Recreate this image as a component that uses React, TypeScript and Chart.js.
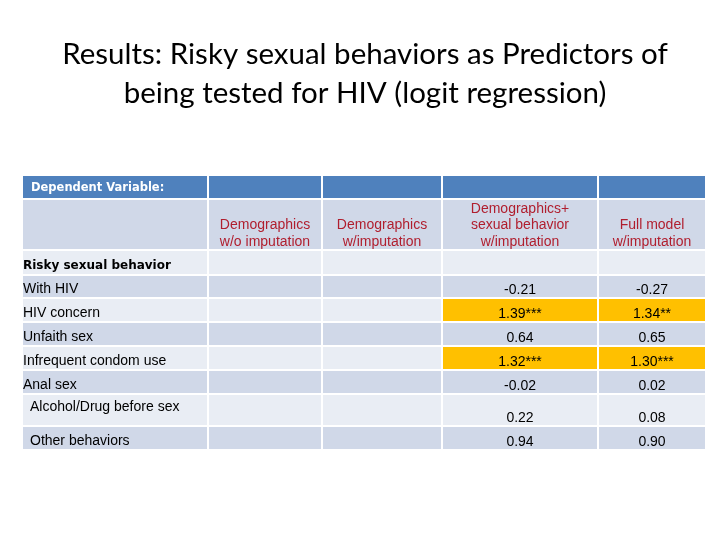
import React, { useEffect, useRef } from "react";
import { Chart, registerables } from "chart.js";

Chart.register(...registerables);

// ---------- content ----------
const TITLE_LINES = [
  "Results: Risky sexual behaviors as Predictors of",
  "being tested for HIV (logit regression)",
];
const HEADER_LABEL = "Dependent Variable:";
const COLUMN_HEADERS = [
  [],
  ["Demographics", "w/o imputation"],
  ["Demographics", "w/imputation"],
  ["Demographics+", "sexual behavior", "w/imputation"],
  ["Full model", "w/imputation"],
];
const SECTION_LABEL = "Risky sexual behavior";
const ROW_LABELS = [
  "With HIV",
  "HIV concern",
  "Unfaith sex",
  "Infrequent condom use",
  "Anal sex",
  "Alcohol/Drug before sex",
  "Other behaviors",
];
const DEMO_NO_IMP_VALUES = ["", "", "", "", "", "", ""];
const DEMO_IMP_VALUES = ["", "", "", "", "", "", ""];
const DEMO_SEX_IMP_VALUES = ["-0.21", "1.39***", "0.64", "1.32***", "-0.02", "0.22", "0.94"];
const FULL_MODEL_VALUES = ["-0.27", "1.34**", "0.65", "1.30***", "0.02", "0.08", "0.90"];

// ---------- layout / style ----------
const COL_WIDTHS = [186, 114, 120, 156, 108];
const ROW_HEIGHTS = [24, 51, 25, 23, 24, 24, 24, 24, 32, 24];
const GAP = 2;
const LABEL_INDENT = [0, 0, 0, 0, 0, 7, 7];
const LABEL_TOP_ALIGNED = [false, false, false, false, false, true, false];

const BLUE = "#4F81BD";
const DARK = "#D0D8E8";
const LIGHT = "#E9EDF4";
const ORANGE = "#FFC000";
const RED_TEXT = "#B01E2E";

const TITLE_SIZE = 29.5;
const TITLE_LINE_PX = 39;
const TITLE_PAD_TOP = 34.5;
const TABLE_TOP = 176;

const sum = (a: number[]) => a.reduce((s, v) => s + v, 0);

export default function App() {
  const ref = useRef<HTMLCanvasElement | null>(null);

  useEffect(() => {
    const canvas = ref.current;
    if (!canvas) return;
    const totalW = sum(COL_WIDTHS);
    const totalH = sum(ROW_HEIGHTS);
    const colStarts = COL_WIDTHS.map((_, i) => sum(COL_WIDTHS.slice(0, i)));
    const rowStarts = ROW_HEIGHTS.map((_, i) => sum(ROW_HEIGHTS.slice(0, i)));
    const dataCols = [null, DEMO_NO_IMP_VALUES, DEMO_IMP_VALUES, DEMO_SEX_IMP_VALUES, FULL_MODEL_VALUES];

    const tablePlugin = {
      id: "tablePlugin",
      afterDraw(chart: any) {
        const { ctx } = chart;
        const xs = chart.scales.x;
        const ys = chart.scales.y;
        const cell = (r: number, c: number) => {
          const x0 = xs.getPixelForValue(colStarts[c]);
          const x1 = xs.getPixelForValue(colStarts[c] + COL_WIDTHS[c]) - GAP;
          const y0 = ys.getPixelForValue(rowStarts[r]);
          const y1 = ys.getPixelForValue(rowStarts[r] + ROW_HEIGHTS[r]) - GAP;
          return { x0, x1, y0, y1, cx: (x0 + x1) / 2 };
        };
        const text = (s: string, x: number, y: number, font: string, color: string, align: CanvasTextAlign) => {
          ctx.font = font;
          ctx.fillStyle = color;
          ctx.textAlign = align;
          ctx.textBaseline = "middle";
          ctx.fillText(s, x, y);
        };
        ctx.save();
        const nRows = ROW_HEIGHTS.length;
        for (let r = 0; r < nRows; r++) {
          for (let c = 0; c < COL_WIDTHS.length; c++) {
            let color = BLUE;
            if (r === 1) color = DARK;
            else if (r === 2) color = LIGHT;
            else if (r >= 3) {
              const di = r - 3;
              color = di % 2 === 0 ? DARK : LIGHT;
              const col = dataCols[c];
              if (col && col[di] && col[di].includes("*")) color = ORANGE;
            }
            const b = cell(r, c);
            ctx.fillStyle = color;
            ctx.fillRect(b.x0, b.y0, b.x1 - b.x0, b.y1 - b.y0);
          }
        }
        const headFont = "bold 11.5px 'DejaVu Sans'";
        const boldFont = "bold 12px 'DejaVu Sans'";
        const regFont = "14px 'Liberation Sans', Arial";
        // header row
        const h = cell(0, 0);
        text(HEADER_LABEL, h.x0 + 8, (h.y0 + h.y1) / 2 + 1, headFont, "#FFFFFF", "left");
        // column headers
        for (let c = 1; c < COLUMN_HEADERS.length; c++) {
          const b = cell(1, c);
          const lines = COLUMN_HEADERS[c];
          lines.forEach((ln, i) => {
            const y = b.y1 - 7 - (lines.length - 1 - i) * 16.5;
            text(ln, b.cx, y, regFont, RED_TEXT, "center");
          });
        }
        // section label
        const s = cell(2, 0);
        text(SECTION_LABEL, s.x0, s.y1 - 8, boldFont, "#000000", "left");
        // data rows
        ROW_LABELS.forEach((lab, i) => {
          const b = cell(3 + i, 0);
          const y = LABEL_TOP_ALIGNED[i] ? b.y0 + 12 : b.y1 - 7.5;
          text(lab, b.x0 + LABEL_INDENT[i], y, regFont, "#000000", "left");
          for (let c = 1; c < dataCols.length; c++) {
            const col = dataCols[c];
            if (!col || !col[i]) continue;
            const bc = cell(3 + i, c);
            text(col[i], bc.cx, bc.y1 - 7, regFont, "#000000", "center");
          }
        });
        ctx.restore();
      },
    };

    const titleBlock = TITLE_LINES.length * TITLE_LINE_PX;
    const chart = new Chart(canvas, {
      type: "scatter",
      data: { datasets: [] },
      options: {
        animation: false,
        responsive: false,
        maintainAspectRatio: false,
        layout: { padding: { left: 23, right: 13, top: 0, bottom: 89 } },
        scales: {
          x: { type: "linear", display: false, min: 0, max: totalW },
          y: { type: "linear", display: false, min: 0, max: totalH, reverse: true },
        },
        plugins: {
          legend: { display: false },
          tooltip: { enabled: false },
          title: {
            display: true,
            text: TITLE_LINES,
            color: "#000000",
            font: { family: "Lato", size: TITLE_SIZE, weight: "normal", lineHeight: TITLE_LINE_PX / TITLE_SIZE },
            padding: { top: TITLE_PAD_TOP, bottom: TABLE_TOP - TITLE_PAD_TOP - titleBlock },
          },
        },
      },
      plugins: [tablePlugin],
    } as any);
    return () => chart.destroy();
  }, []);

  return (
    <div style={{ position: "fixed", left: 0, top: 0, width: 720, height: 540, background: "#fff" }}>
      <canvas ref={ref} width={720} height={540} style={{ width: 720, height: 540, display: "block" }} />
    </div>
  );
}
